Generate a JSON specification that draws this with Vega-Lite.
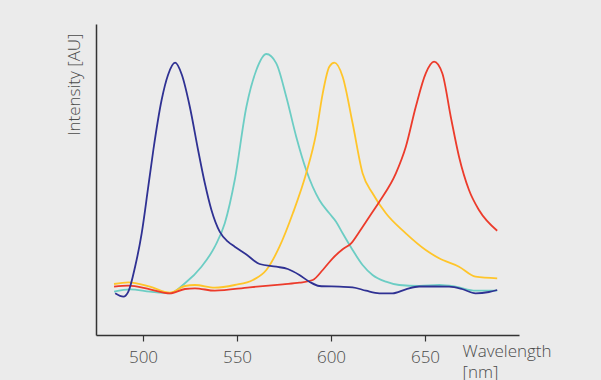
{
  "$schema": "https://vega.github.io/schema/vega-lite/v6.json",
  "width": 423,
  "height": 311,
  "autosize": "none",
  "padding": {"left": 96, "top": 24, "right": 82, "bottom": 45},
  "background": "#ebebeb",
  "config": {"view": {"stroke": null}, "font": "Open Sans"},
  "data": {"values": [
    {"s": "teal", "wl": 484.6, "i": 43.3}, {"s": "teal", "wl": 493.1, "i": 45.7}, {"s": "teal", "wl": 503.7, "i": 43.3}, {"s": "teal", "wl": 514.3, "i": 41.7}, {"s": "teal", "wl": 522.3, "i": 51.7}, {"s": "teal", "wl": 531.1, "i": 68.3}, {"s": "teal", "wl": 538.2, "i": 88.3}, {"s": "teal", "wl": 543.5, "i": 111.7}, {"s": "teal", "wl": 548.8, "i": 155}, {"s": "teal", "wl": 555.0, "i": 228.3}, {"s": "teal", "wl": 560.3, "i": 265}, {"s": "teal", "wl": 565.6, "i": 281}, {"s": "teal", "wl": 570.9, "i": 271.7}, {"s": "teal", "wl": 576.2, "i": 238.3}, {"s": "teal", "wl": 581.5, "i": 198.3}, {"s": "teal", "wl": 586.8, "i": 165}, {"s": "teal", "wl": 593.8, "i": 135}, {"s": "teal", "wl": 599.1, "i": 121.7}, {"s": "teal", "wl": 602.7, "i": 113.3}, {"s": "teal", "wl": 606.2, "i": 101.7}, {"s": "teal", "wl": 611.5, "i": 85}, {"s": "teal", "wl": 616.8, "i": 70}, {"s": "teal", "wl": 622.1, "i": 60}, {"s": "teal", "wl": 629.2, "i": 53.3}, {"s": "teal", "wl": 636.3, "i": 50}, {"s": "teal", "wl": 646.9, "i": 49}, {"s": "teal", "wl": 657.5, "i": 50}, {"s": "teal", "wl": 666.3, "i": 48.3}, {"s": "teal", "wl": 676.9, "i": 44.3}, {"s": "teal", "wl": 688.4, "i": 44.3},
    {"s": "yellow", "wl": 484.6, "i": 51}, {"s": "yellow", "wl": 492.2, "i": 52.7}, {"s": "yellow", "wl": 503.7, "i": 48.3}, {"s": "yellow", "wl": 514.3, "i": 42.3}, {"s": "yellow", "wl": 522.3, "i": 49}, {"s": "yellow", "wl": 527.6, "i": 50}, {"s": "yellow", "wl": 538.2, "i": 47.3}, {"s": "yellow", "wl": 548.8, "i": 50}, {"s": "yellow", "wl": 558.5, "i": 55}, {"s": "yellow", "wl": 565.6, "i": 65}, {"s": "yellow", "wl": 572.6, "i": 88.3}, {"s": "yellow", "wl": 579.7, "i": 121.7}, {"s": "yellow", "wl": 586.8, "i": 161.7}, {"s": "yellow", "wl": 592.1, "i": 201.7}, {"s": "yellow", "wl": 595.6, "i": 241.7}, {"s": "yellow", "wl": 599.1, "i": 268.3}, {"s": "yellow", "wl": 601.8, "i": 272.3}, {"s": "yellow", "wl": 606.2, "i": 258.3}, {"s": "yellow", "wl": 611.5, "i": 211.7}, {"s": "yellow", "wl": 616.8, "i": 161.7}, {"s": "yellow", "wl": 622.1, "i": 141.7}, {"s": "yellow", "wl": 629.2, "i": 121.7}, {"s": "yellow", "wl": 639.8, "i": 101.7}, {"s": "yellow", "wl": 650.4, "i": 85}, {"s": "yellow", "wl": 657.5, "i": 76.7}, {"s": "yellow", "wl": 668.1, "i": 68.3}, {"s": "yellow", "wl": 676.9, "i": 58.3}, {"s": "yellow", "wl": 688.4, "i": 56.7},
    {"s": "red", "wl": 484.6, "i": 48.3}, {"s": "red", "wl": 492.2, "i": 49.3}, {"s": "red", "wl": 503.7, "i": 45.7}, {"s": "red", "wl": 514.3, "i": 41.7}, {"s": "red", "wl": 522.3, "i": 46}, {"s": "red", "wl": 527.6, "i": 46.7}, {"s": "red", "wl": 538.2, "i": 44.3}, {"s": "red", "wl": 556.7, "i": 47.7}, {"s": "red", "wl": 574.4, "i": 50.7}, {"s": "red", "wl": 583.2, "i": 52.3}, {"s": "red", "wl": 590.3, "i": 55}, {"s": "red", "wl": 595.6, "i": 65}, {"s": "red", "wl": 600.9, "i": 76.7}, {"s": "red", "wl": 606.2, "i": 85.7}, {"s": "red", "wl": 610.7, "i": 91.7}, {"s": "red", "wl": 615.1, "i": 103.3}, {"s": "red", "wl": 620.4, "i": 118.3}, {"s": "red", "wl": 625.7, "i": 133.3}, {"s": "red", "wl": 634.5, "i": 161.7}, {"s": "red", "wl": 639.8, "i": 188.3}, {"s": "red", "wl": 645.1, "i": 228.3}, {"s": "red", "wl": 650.4, "i": 261.7}, {"s": "red", "wl": 654.8, "i": 273.3}, {"s": "red", "wl": 659.2, "i": 261.7}, {"s": "red", "wl": 663.7, "i": 218.3}, {"s": "red", "wl": 668.1, "i": 178.3}, {"s": "red", "wl": 673.4, "i": 145}, {"s": "red", "wl": 678.7, "i": 125}, {"s": "red", "wl": 688.4, "i": 104.3},
    {"s": "blue", "wl": 485.2, "i": 41.7}, {"s": "blue", "wl": 489.6, "i": 38.3}, {"s": "blue", "wl": 492.2, "i": 43.3}, {"s": "blue", "wl": 495.8, "i": 68.3}, {"s": "blue", "wl": 499.3, "i": 101.7}, {"s": "blue", "wl": 502.8, "i": 148.3}, {"s": "blue", "wl": 505.5, "i": 185}, {"s": "blue", "wl": 509.9, "i": 235}, {"s": "blue", "wl": 513.3, "i": 260}, {"s": "blue", "wl": 517.1, "i": 272.3}, {"s": "blue", "wl": 520.7, "i": 260}, {"s": "blue", "wl": 524.9, "i": 228.3}, {"s": "blue", "wl": 529.3, "i": 185}, {"s": "blue", "wl": 532.9, "i": 151.7}, {"s": "blue", "wl": 536.4, "i": 125}, {"s": "blue", "wl": 540.8, "i": 103.3}, {"s": "blue", "wl": 545.2, "i": 93.3}, {"s": "blue", "wl": 548.8, "i": 88.3}, {"s": "blue", "wl": 555.0, "i": 80.5}, {"s": "blue", "wl": 562.0, "i": 71}, {"s": "blue", "wl": 570.9, "i": 68.3}, {"s": "blue", "wl": 577.0, "i": 66}, {"s": "blue", "wl": 583.2, "i": 60}, {"s": "blue", "wl": 588.5, "i": 53.3}, {"s": "blue", "wl": 593.8, "i": 49}, {"s": "blue", "wl": 604.5, "i": 48.3}, {"s": "blue", "wl": 611.5, "i": 47.7}, {"s": "blue", "wl": 618.6, "i": 44.3}, {"s": "blue", "wl": 625.7, "i": 41.7}, {"s": "blue", "wl": 632.7, "i": 41.7}, {"s": "blue", "wl": 639.8, "i": 45.7}, {"s": "blue", "wl": 646.9, "i": 48.5}, {"s": "blue", "wl": 655.0, "i": 48.5}, {"s": "blue", "wl": 662.8, "i": 48.3}, {"s": "blue", "wl": 669.7, "i": 46}, {"s": "blue", "wl": 676.9, "i": 41.7}, {"s": "blue", "wl": 684.0, "i": 43}, {"s": "blue", "wl": 688.4, "i": 45}
  ]},
  "mark": {"type": "line", "interpolate": "monotone", "strokeWidth": 1.8},
  "encoding": {
    "x": {
      "field": "wl", "type": "quantitative",
      "scale": {"domain": [475, 700], "nice": false, "zero": false},
      "axis": {
        "values": [500, 550, 600, 650],
        "grid": false,
        "domainColor": "#333333", "domainWidth": 1.5,
        "tickColor": "#333333", "tickWidth": 1.2, "tickSize": 6,
        "labelFont": "Open Sans", "labelFontSize": 17, "labelFontWeight": 300, "labelColor": "#4a4a4a", "labelPadding": 8,
        "title": ["Wavelength", "[nm]"],
        "titleFont": "Open Sans", "titleFontSize": 17, "titleFontWeight": 300, "titleColor": "#4a4a4a",
        "titleAlign": "left", "titleAnchor": "start", "titleBaseline": "top",
        "titleX": 366, "titleY": 8, "titleLineHeight": 21
      }
    },
    "y": {
      "field": "i", "type": "quantitative",
      "scale": {"domain": [0, 311], "nice": false, "zero": true},
      "axis": {
        "ticks": false, "labels": false, "grid": false,
        "domainColor": "#333333", "domainWidth": 1.5,
        "title": "Intensity [AU]",
        "titleFont": "Open Sans", "titleFontSize": 17, "titleFontWeight": 300, "titleColor": "#4a4a4a",
        "titleAngle": -90, "titleAlign": "right", "titleBaseline": "alphabetic",
        "titleX": -17, "titleY": 9
      }
    },
    "color": {
      "field": "s", "type": "nominal",
      "scale": {"domain": ["teal", "yellow", "red", "blue"], "range": ["#6ccdc4", "#ffc52a", "#ec3b2b", "#2f3193"]},
      "legend": null
    }
  }
}
